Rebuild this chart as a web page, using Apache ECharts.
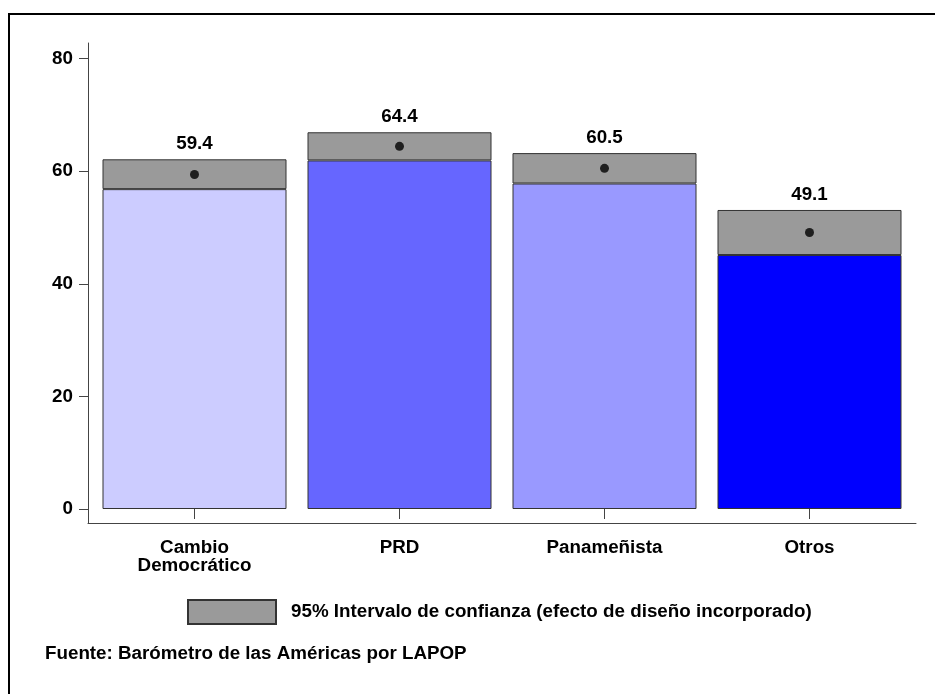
<!DOCTYPE html>
<html><head><meta charset="utf-8">
<script src="https://cdn.jsdelivr.net/npm/echarts@6/dist/echarts.min.js"></script>
<style>html,body{margin:0;padding:0;background:#fff}#c{width:935px;height:694px}</style>
</head><body><div id="c"></div>
<script>
var categories = ['Cambio\nDemocrático', 'PRD', 'Panameñista', 'Otros'];
var means = [59.4, 64.4, 60.5, 49.1];
var ciLower = [56.8, 61.9, 57.8, 45.1];
var ciUpper = [62.1, 66.9, 63.2, 53.1];
var barColors = ['#ccccff', '#6666ff', '#9999ff', '#0000ff'];
var yTicks = [0, 20, 40, 60, 80];
var legendName = '95% Intervalo de confianza (efecto de diseño incorporado)';
var sourceText = 'Fuente: Barómetro de las Américas por LAPOP';

var FONT = 'Liberation Sans';
var FS = 18.8;
var chart = echarts.init(document.getElementById('c'), null, {renderer: 'canvas'});
var bandValues = ciUpper.map(function (u, i) { return +(u - ciLower[i]).toFixed(2); });

chart.setOption({
  animation: false,
  backgroundColor: '#fff',
  textStyle: {fontFamily: FONT},
  title: {
    text: sourceText, left: 45, top: 644, padding: 0,
    textStyle: {fontFamily: FONT, fontSize: FS, fontWeight: 'bold', color: '#000'}
  },
  legend: {
    data: [{name: legendName, icon: 'rect'}], left: 187, top: 599, padding: 0,
    itemWidth: 88, itemHeight: 24,
    textStyle: {fontFamily: FONT, fontSize: FS, fontWeight: 'bold', color: '#000', padding: [0, 0, 0, 10]},
    selectedMode: false
  },
  graphic: [{
    type: 'rect', shape: {x: 9, y: 14, width: 1000, height: 1000},
    style: {fill: 'none', stroke: '#000', lineWidth: 2}, silent: true, z: 100
  }],
  grid: [
    {left: 92, right: 23, top: 58.5, bottom: 185},
    {left: 88, right: 19, top: 43, bottom: 171}
  ],
  xAxis: [
    {
      type: 'category', gridIndex: 0, data: categories, offset: 14,
      axisLine: {show: false},
      axisTick: {show: true, alignWithLabel: true, length: 10, lineStyle: {color: '#444'}},
      axisLabel: {fontFamily: FONT, fontSize: FS, fontWeight: 'bold', color: '#000', margin: 16, lineHeight: 18, interval: 0}
    },
    {
      type: 'value', gridIndex: 1, min: 0, max: 1,
      axisLine: {show: true, lineStyle: {color: '#444', width: 1}},
      axisTick: {show: false}, axisLabel: {show: false}, splitLine: {show: false}
    }
  ],
  yAxis: [
    {
      type: 'value', gridIndex: 0, min: yTicks[0], max: yTicks[yTicks.length - 1], interval: 20, offset: 4,
      axisLine: {show: false},
      axisTick: {show: true, length: 9, lineStyle: {color: '#444'}},
      axisLabel: {fontFamily: FONT, fontSize: FS, fontWeight: 'bold', color: '#000', margin: 15},
      splitLine: {show: false}
    },
    {
      type: 'value', gridIndex: 1, min: 0, max: 1,
      axisLine: {show: true, lineStyle: {color: '#444', width: 1}},
      axisTick: {show: false}, axisLabel: {show: false}, splitLine: {show: false}
    }
  ],
  series: [
    {
      name: 'base', type: 'bar', stack: 's', barWidth: 184,
      xAxisIndex: 0, yAxisIndex: 0,
      data: ciLower.map(function (v, i) {
        return {value: v, itemStyle: {color: barColors[i], borderColor: '#333', borderWidth: 1}};
      })
    },
    {
      name: legendName, type: 'bar', stack: 's', barWidth: 184,
      xAxisIndex: 0, yAxisIndex: 0,
      itemStyle: {color: '#9a9a9a', borderColor: '#333', borderWidth: 1},
      label: {
        show: true, position: 'top', distance: 6,
        fontFamily: FONT, fontSize: FS, fontWeight: 'bold', color: '#000',
        formatter: function (p) { return means[p.dataIndex].toFixed(1); }
      },
      data: bandValues
    },
    {
      name: 'mean', type: 'scatter', xAxisIndex: 0, yAxisIndex: 0,
      symbol: 'circle', symbolSize: 9, itemStyle: {color: '#000'}, z: 5,
      data: means
    }
  ]
});
</script></body></html>
